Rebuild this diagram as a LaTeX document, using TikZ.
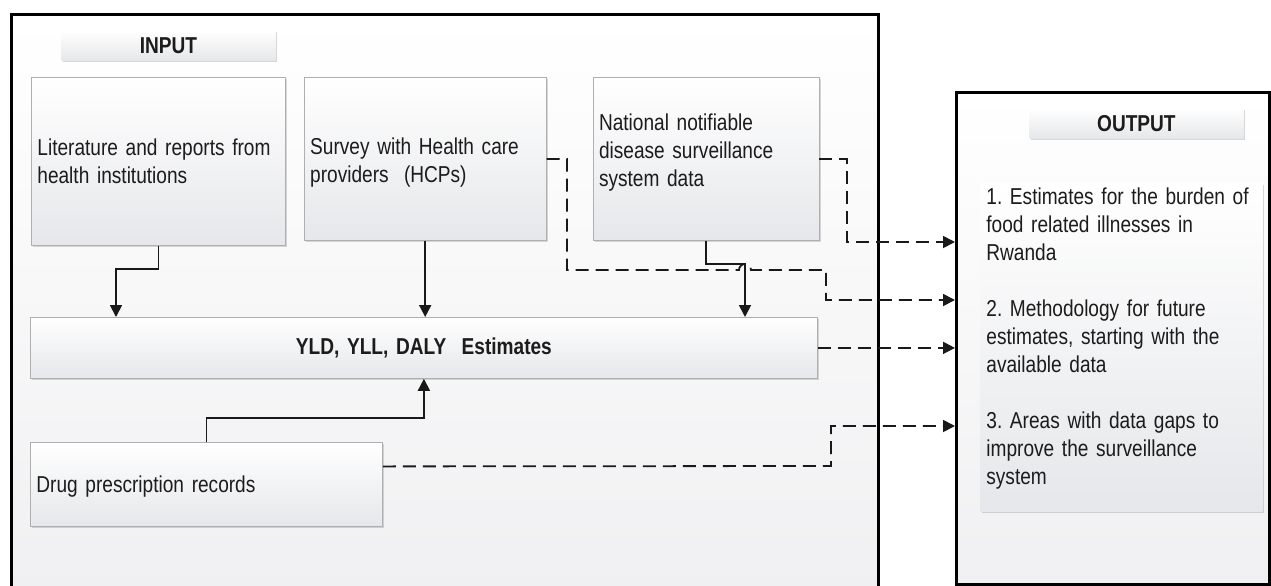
\documentclass[tikz,border=0pt]{standalone}
\usepackage{fontspec}
\setmainfont{Liberation Sans}[FakeStretch=0.83]
\usepackage{xcolor}
\usepackage{tikz}
\usetikzlibrary{arrows.meta, positioning, shadows}
\definecolor{boxedge}{RGB}{175,175,178}
\definecolor{boxshade}{RGB}{230,231,234}
\definecolor{frameshade}{RGB}{240,240,242}
\definecolor{inktext}{RGB}{28,28,28}
\frenchspacing

\begin{document}
\begin{tikzpicture}[
    x=0.5pt, y=-0.5pt,
    frame/.style={rectangle, draw=black, line width=1.25pt, top color=white, bottom color=frameshade, inner sep=0pt, anchor=north west},
    heading/.style={rectangle, minimum width=107pt, minimum height=15pt, top color=white, bottom color=boxshade, drop shadow={shadow xshift=1pt, shadow yshift=-1pt, opacity=0.3}, font=\bfseries\fontsize{11.5}{12}\selectfont, text=inktext, anchor=north west},
    source/.style={rectangle, draw=boxedge, line width=0.4pt, top color=white, bottom color=boxshade, drop shadow={shadow xshift=1pt, shadow yshift=-1pt, opacity=0.3}, align=left, inner xsep=3pt, font=\fontsize{11.5}{14}\selectfont, text=inktext, anchor=north west},
    arrow/.style={-{Triangle[length=6pt, width=6pt]}, line width=0.9pt, color=black!90},
    feed/.style={arrow, dash pattern=on 6.5pt off 3.5pt}
]
\useasboundingbox (0,0) rectangle (1271,585);

% Frames
\node[frame, minimum width=433.5pt, minimum height=290pt] (inframe) at (10,13) {};
\node[frame, minimum width=156.5pt, minimum height=246pt] (outframe) at (955,91) {};
\node[heading] (inputlbl) at (61,30) {INPUT};
\node[heading] (outputlbl) at (1029,108) {OUTPUT};

% Data sources
\node[source, text width=121pt, minimum height=84pt] (lit) at (31,77) {Literature and reports from\\health institutions};
\node[source, text width=115pt, minimum height=81.5pt, right=9pt of lit.north east, anchor=north west] (survey) {\rule{0pt}{12.4pt}Survey with Health care\\providers~ (HCPs)};
\node[source, text width=107pt, minimum height=81.5pt, right=23pt of survey.north east, anchor=north west] (notifiable) {National notifiable\\disease surveillance\\system data\\[-5.6pt]\mbox{}};
\node[source, text width=387.5pt, minimum height=30.5pt, align=center, font=\bfseries\fontsize{11.5}{14}\selectfont] (estimates) at (30,317) {YLD, YLL, DALY~ Estimates};
\node[source, text width=170pt, minimum height=42pt] (drug) at (30,442) {\rule{0pt}{10.4pt}Drug prescription records};

% Outputs
\node[source, text width=135pt, inner ysep=2pt, draw=none] (results) at (980,183) {1. Estimates for the burden of\\food related illnesses in\\Rwanda\\[14pt]2. Methodology for future\\estimates, starting with the\\available data\\[14pt]3. Areas with data gaps to\\improve the surveillance\\system\\[-2.5pt]\mbox{}};

\coordinate (hit1) at (955,242);
\coordinate (hit2) at (955,300);
\coordinate (hit4) at (955,426);

% Inputs to estimates
\draw[arrow] (lit.south) -- ++(0,23) -| (116,0 |- estimates.north);
\draw[arrow] (survey.south) -- (survey.south |- estimates.north);
\draw[arrow] (notifiable.south) -- ++(0,23) -| (745,0 |- estimates.north);
\draw[arrow] (drug.north) -- ++(0,-24) -| (estimates.south);

% Dashed links to outputs
\draw[feed] (notifiable.east) -- (847,0 |- notifiable.east) -- (847,242) -- (hit1);
\draw[feed] (survey.east) -- (567,0 |- survey.east) -- (567,270) -- (739,270) arc[start angle=180, end angle=360, radius=6] -- (826,270) -- (826,300) -- (hit2);
\draw[feed] (estimates.east) -- (estimates.east -| outframe.west);
\draw[feed] ([yshift=9pt]drug.east) -- (831,466) -- (831,426) -- (hit4);

\end{tikzpicture}
\end{document}
